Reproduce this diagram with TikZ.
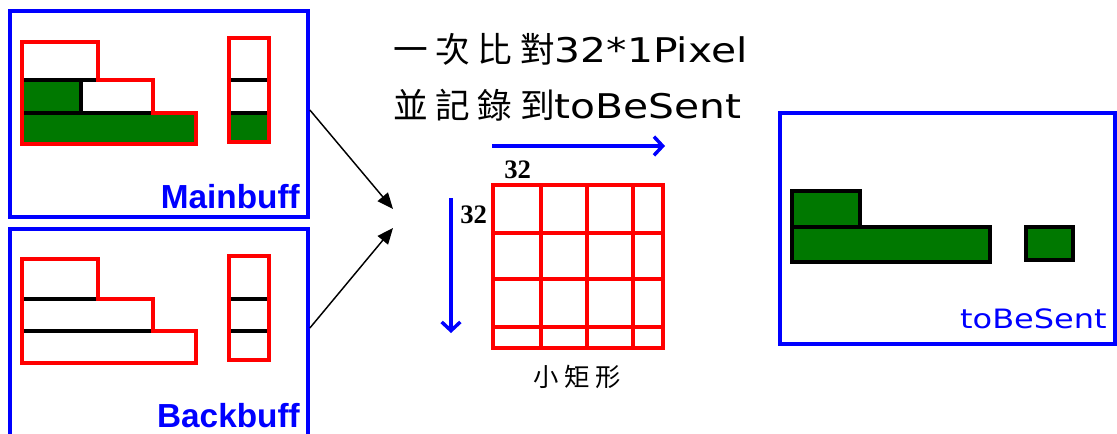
\documentclass[tikz,border=0pt]{standalone}
\usepackage{fontspec}
\setmainfont{DejaVu Sans}
\newfontfamily\cjk[LetterSpace=22]{Noto Sans CJK TC}
\newfontfamily\cjksmall[LetterSpace=22]{Noto Sans CJK TC}
\newfontfamily\wide[FakeStretch=1.2]{DejaVu Sans}
\newfontfamily\labelfont{Liberation Sans}
\newfontfamily\numfont{Liberation Serif}
\usetikzlibrary{arrows.meta,fit}

\definecolor{bufblue}{RGB}{0,0,255}
\definecolor{bufred}{RGB}{255,0,0}
\definecolor{bufgreen}{RGB}{0,120,0}

\tikzset{
  frame/.style={draw=bufblue, line width=2.8pt, inner sep=0pt},
  outline/.style={draw=bufred, line width=2.4pt},
  divider/.style={draw=black, line width=2.3pt},
  block/.style={fill=bufgreen, draw=black, line width=2.4pt},
  feed/.style={draw=black, line width=1.1pt, -{Triangle[length=12pt,width=10pt]}},
  scan/.style={draw=bufblue, line width=2.6pt, -{Straight Barb[length=6.5pt,width=14pt]}},
  cell/.style={draw=bufred, line width=3pt},
  buflabel/.style={anchor=base east, inner sep=0pt, text=bufblue,
    font=\labelfont\bfseries\fontsize{25}{25}\selectfont},
  numlabel/.style={anchor=base west, inner sep=0pt,
    font=\numfont\bfseries\fontsize{20}{20}\selectfont},
}

\begin{document}
\begin{tikzpicture}[x=0.75pt,y=-0.75pt]
\useasboundingbox (0,0) rectangle (1117,433);
\fill[white] (0,0) rectangle (1117,433);

% ---------- Mainbuff ----------
\node[frame, fit={(10,11)(308,217)}] (main) {};
\fill[bufgreen] (22,80) rectangle (81,113);
\fill[bufgreen] (22,113) rectangle (196,144);
\draw[divider] (22,80) -- (98,80);
\draw[divider] (22,113) -- (153,113);
\draw[divider] (81,80) -- (81,113);
\draw[outline] (22,42) -| (98,80) -| (153,113) -| (196,144) -- (22,144) -- cycle;
\fill[bufgreen] (229,113) rectangle (269,142);
\draw[divider] (229,80) -- (269,80);
\draw[divider] (229,113) -- (269,113);
\draw[outline] (229,38) rectangle (269,142);
\node[buflabel] (mainlabel) at (300,208) {Mainbuff};

% ---------- Backbuff ----------
\node[frame, fit={(10,229)(308,437)}] (back) {};
\draw[divider] (22,299) -- (98,299);
\draw[divider] (22,331) -- (153,331);
\draw[outline] (22,259) -| (98,299) -| (153,331) -| (196,363) -- (22,363) -- cycle;
\draw[divider] (229,299) -- (269,299);
\draw[divider] (229,331) -- (269,331);
\draw[outline] (229,256) rectangle (269,360);
\node[buflabel] (backlabel) at (300,427) {Backbuff};

% ---------- merging arrows ----------
\coordinate (joinA) at (393,209);
\coordinate (joinB) at (393,228);
\draw[feed] ([yshift=3pt]main.east) -- (joinA);
\draw[feed] ([yshift=3.75pt]back.east) -- (joinB);

% ---------- caption ----------
\node[anchor=base west, inner sep=0pt] (line1) at (393,62)
  {\cjk\fontsize{26}{26}\selectfont 一次比對\wide\fontsize{25.5}{25.5}\selectfont 32*1Pixel};
\node[anchor=base west, inner sep=0pt] (line2) at (393,118)
  {\cjk\fontsize{26}{26}\selectfont 並記錄到\wide\fontsize{25.5}{25.5}\selectfont toBeSent};

% ---------- scan grid ----------
\coordinate (scanL) at (492,146);
\coordinate (scanR) at (665,146);
\draw[scan] (scanL) -- (scanR);
\coordinate (scanT) at (451,198);
\coordinate (scanB) at (451,333);
\draw[scan] (scanT) -- (scanB);
\node[numlabel] (colcount) at (504,178) {32};
\node[numlabel] (rowcount) at (460,223) {32};

\node[cell, inner sep=0pt, fit={(493,185)(663,348)}] (grid) {};
\foreach \gx in {541,587,633} \draw[cell] (\gx,185) -- (\gx,348);
\foreach \gy in {233,279,327} \draw[cell] (493,\gy) -- (663,\gy);
\node[inner sep=0pt, font=\cjksmall\fontsize{19}{19}\selectfont] (gridname) at (577,377) {小矩形};

% ---------- toBeSent ----------
\node[frame, fit={(780,113)(1115,344)}] (sent) {};
\draw[block] (792,191) rectangle (860,227);
\draw[block] (792,227) rectangle (990,262);
\draw[block] (1026,227) rectangle (1073,260);
\node[anchor=base east, inner sep=0pt, text=bufblue,
  font=\wide\fontsize{20}{20}\selectfont] (sentlabel) at (1107,328) {toBeSent};
\end{tikzpicture}
\end{document}
